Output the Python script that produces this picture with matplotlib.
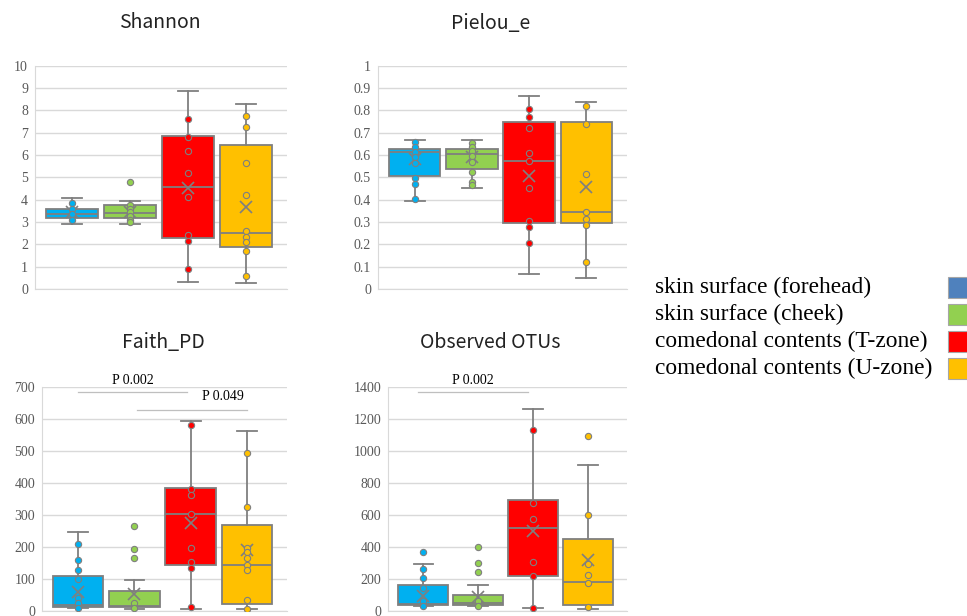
# Alpha diversity box plots (Excel-style box & whisker) for 4 sampling sites
import matplotlib
matplotlib.use('Agg')
import matplotlib.pyplot as plt
from matplotlib.patches import Rectangle
from matplotlib.ticker import MultipleLocator, FuncFormatter

plt.rcParams['font.family'] = ['Liberation Serif', 'DejaVu Serif']

groups = ['skin surface (forehead)', 'skin surface (cheek)',
          'comedonal contents (T-zone)', 'comedonal contents (U-zone)']
box_colors = ['#00B0F0', '#92D050', '#FF0000', '#FFC000']
legend_colors = ['#4F81BD', '#92D050', '#FF0000', '#FFC000']

# [whisker low, Q1, median, Q3, whisker high] per group
shannon_box = [[2.89, 3.17, 3.35, 3.60, 4.08], [2.93, 3.17, 3.42, 3.77, 3.95],
               [0.31, 2.29, 4.55, 6.87, 8.88], [0.27, 1.89, 2.51, 6.46, 8.30]]
shannon_mean = [3.45, 3.45, 4.52, 3.65]
shannon_pts = [[3.83, 3.58, 3.38, 3.08],
               [4.77, 3.77, 3.60, 3.43, 3.27, 3.10, 2.98],
               [7.60, 6.80, 6.18, 5.19, 4.14, 2.40, 2.16, 0.91],
               [7.73, 7.27, 5.66, 4.23, 2.59, 2.32, 2.12, 1.68, 0.57]]

pielou_box = [[0.395, 0.507, 0.613, 0.628, 0.667], [0.451, 0.536, 0.605, 0.628, 0.667],
              [0.067, 0.294, 0.574, 0.746, 0.863], [0.049, 0.294, 0.346, 0.746, 0.837]]
pielou_mean = [0.58, 0.59, 0.507, 0.456]
pielou_pts = [[0.658, 0.637, 0.612, 0.59, 0.563, 0.496, 0.470, 0.403],
              [0.655, 0.637, 0.618, 0.596, 0.570, 0.525, 0.480, 0.466],
              [0.808, 0.772, 0.720, 0.610, 0.574, 0.452, 0.305, 0.279, 0.206],
              [0.821, 0.738, 0.514, 0.345, 0.314, 0.285, 0.121]]

faith_box = [[9, 13, 18, 109, 246], [7, 13, 16, 61, 96],
             [7, 145, 303, 383, 595], [6, 23, 143, 268, 564]]
faith_mean = [60, 54, 276, 190]
faith_pts = [[210, 158, 127, 101, 42, 26, 9],
             [265, 193, 167, 26, 9],
             [582, 380, 362, 304, 196, 154, 133, 13],
             [495, 326, 197, 184, 166, 143, 128, 33, 6]]

otus_box = [[31, 38, 42, 160, 296], [31, 35, 48, 98, 161],
            [21, 219, 518, 692, 1265], [15, 40, 182, 449, 911]]
otus_mean = [96, 88, 497, 318]
otus_pts = [[370, 261, 205, 142, 60, 29],
            [402, 303, 246, 65, 31],
            [1130, 677, 575, 309, 219, 21],
            [1091, 600, 292, 224, 178, 27]]

# significance brackets: (label, x start, x end, y level, label x, label y)
faith_sig = [('P 0.002', 0.0, 1.94, 683, 0.97, 721),
             ('P 0.049', 1.05, 3.0, 627, 2.57, 669)]
otus_sig = [('P 0.002', -0.1, 1.91, 1366, 0.9, 1442)]

W, H = 967, 616
fig = plt.figure(figsize=(W / 100, H / 100), dpi=100)


def px_axes(left, right, top, bottom):
    return fig.add_axes([left / W, 1 - bottom / H, (right - left) / W, (bottom - top) / H])


def draw_panel(ax, boxes, means, pts, ymax, step, sig=()):
    stats = []
    for b, m in zip(boxes, means):
        stats.append({'whislo': b[0], 'q1': b[1], 'med': b[2], 'q3': b[3],
                      'whishi': b[4], 'mean': m, 'fliers': []})
    pos = range(len(stats))
    bp = ax.bxp(stats, positions=pos, widths=0.9, capwidths=0.35, patch_artist=True,
                showmeans=True, showfliers=False,
                boxprops=dict(edgecolor='#7F7F7F', linewidth=1.3),
                whiskerprops=dict(color='#7F7F7F', linewidth=1.3),
                capprops=dict(color='#7F7F7F', linewidth=1.3),
                medianprops=dict(color='#7F7F7F', linewidth=1.3),
                meanprops=dict(marker='x', markeredgecolor='#7F7F7F', markersize=9,
                               markeredgewidth=1.2))
    for patch, c in zip(bp['boxes'], box_colors):
        patch.set_facecolor(c)
    for i, vals in enumerate(pts):
        ax.plot([i] * len(vals), vals, linestyle='none', marker='o', markersize=4.5,
                markerfacecolor=box_colors[i], markeredgecolor='#7F7F7F',
                markeredgewidth=0.8, zorder=4)
    for label, x0, x1, y, tx, ty in sig:
        ax.plot([x0, x1], [y, y], color='#BFBFBF', linewidth=0.9, clip_on=False)
        ax.text(tx, ty, label, ha='center', va='center', fontsize=10, clip_on=False)

    ax.set_xlim(-0.64, 3.71)
    ax.set_ylim(0, ymax)
    ax.yaxis.set_major_locator(MultipleLocator(step))
    ax.yaxis.set_major_formatter(FuncFormatter(lambda v, p: '{:g}'.format(round(v, 2))))
    ax.set_xticks([])
    ax.yaxis.grid(True, color='#D9D9D9', linewidth=1)
    ax.set_axisbelow(True)
    for s in ['top', 'right']:
        ax.spines[s].set_visible(False)
    for s in ['left', 'bottom']:
        ax.spines[s].set_color('#D9D9D9')
    ax.tick_params(axis='y', length=0, labelcolor='#595959', labelsize=10, pad=5)


ax1 = px_axes(35, 287, 65.7, 289)
draw_panel(ax1, shannon_box, shannon_mean, shannon_pts, 10, 1)
ax2 = px_axes(378, 627, 65.7, 289)
draw_panel(ax2, pielou_box, pielou_mean, pielou_pts, 1, 0.1)
ax3 = px_axes(42, 287, 387, 611)
draw_panel(ax3, faith_box, faith_mean, faith_pts, 700, 100, faith_sig)
ax4 = px_axes(388, 627, 387, 611)
draw_panel(ax4, otus_box, otus_mean, otus_pts, 1400, 200, otus_sig)

title_font = ['Noto Sans CJK JP', 'DejaVu Sans']
for txt, x, y in [('Shannon', 160, 23), ('Pielou_e', 491, 23),
                  ('Faith_PD', 163, 343), ('Observed OTUs', 490, 343)]:
    fig.text(x / W, 1 - y / H, txt, ha='center', va='center', fontsize=14,
             family=title_font, color='#222222')

# legend: labels on the left, colour swatches on the right (cut by figure edge)
for i, (g, c) in enumerate(zip(groups, legend_colors)):
    yc = 287 + 27.2 * i
    fig.text(655 / W, 1 - yc / H, g, ha='left', va='center', fontsize=16.8, color='black')
    fig.patches.append(Rectangle((948 / W, 1 - (yc + 10.5) / H), 25 / W, 21 / H,
                                 transform=fig.transFigure, facecolor=c,
                                 edgecolor='#A6A6A6', linewidth=0.8))

fig.savefig('out.png', dpi=100)
